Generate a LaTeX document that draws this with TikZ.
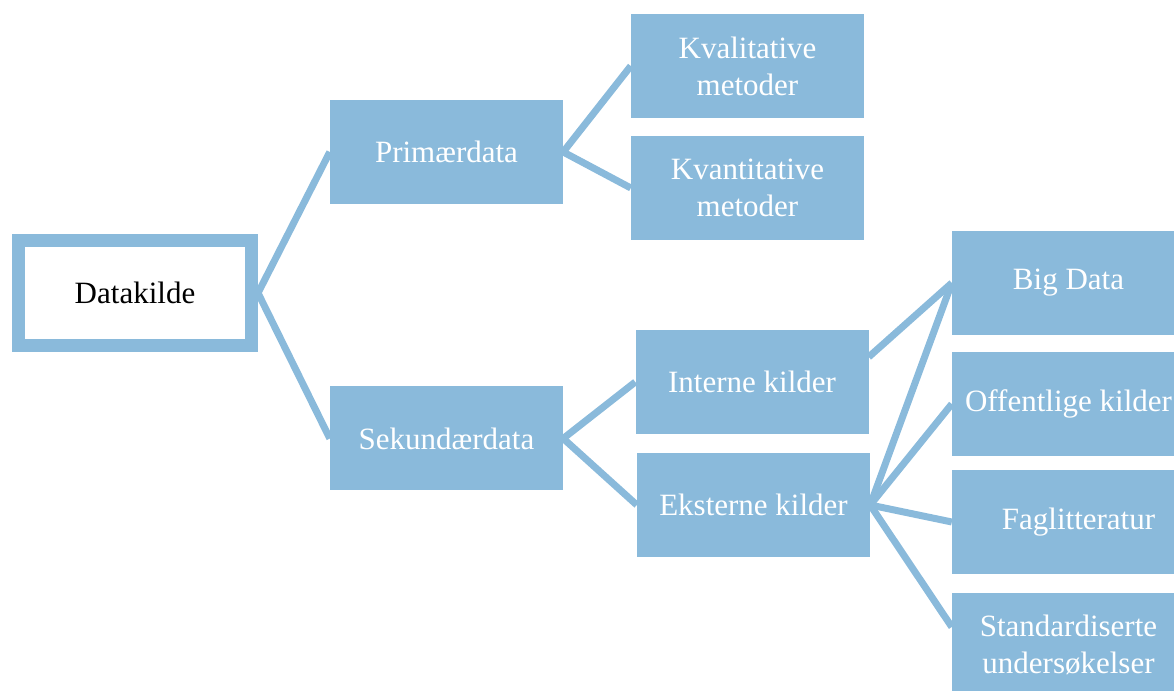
\documentclass[tikz,border=0pt]{standalone}
\usepackage{fontspec}
\setmainfont{Liberation Serif}
\usetikzlibrary{backgrounds}
\definecolor{boxblue}{HTML}{8ABADB}
\begin{document}
\begin{tikzpicture}[x=1pt,y=1pt,
  every node/.style={font=\fontsize{31}{37}\selectfont},
  bluebox/.style={fill=boxblue, draw=none, text=white, minimum width=233pt, minimum height=104pt, inner sep=0pt, align=center},
  rootbox/.style={fill=white, draw=boxblue, line width=13pt, text=black, minimum width=233pt, minimum height=105pt, inner sep=0pt, align=center},
  conn/.style={draw=boxblue, line width=7pt}]
\useasboundingbox (0,0) rectangle (1174,690);
\clip (0,0) rectangle (1174,690);
\node[rootbox] (D) at (135,397) {Datakilde};
\node[bluebox] (P) at (446.5,538) {Primærdata};
\node[bluebox] (S) at (446.5,251.5) {Sekundærdata};
\node[bluebox] (Kval) at (747.5,624) {Kvalitative\\metoder};
\node[bluebox] (Kvan) at (747.5,502) {Kvantitative\\metoder};
\node[bluebox] (I) at (752,308) {Interne kilder};
\node[bluebox] (E) at (753.5,185) {Eksterne kilder};
\node[bluebox] (BD) at (1068.5,407) {Big Data};
\node[bluebox] (O) at (1068.5,286) {Offentlige kilder};
\node[bluebox] (F) at (1068.5,168) {\hspace*{20pt}Faglitteratur};
\node[bluebox] (St) at (1068.5,45) {Standardiserte\\undersøkelser};
\begin{scope}[on background layer]
\draw[conn] (D.east) -- (P.west);
\draw[conn] (D.east) -- (S.west);
\draw[conn] (P.east) -- (Kval.west);
\draw[conn] (P.east) -- (Kvan.west);
\draw[conn] (S.east) -- (I.west);
\draw[conn] (S.east) -- (E.west);
\draw[conn] ([yshift=25pt]I.east) -- (BD.west);
\draw[conn] (E.east) -- (BD.west);
\draw[conn] (E.east) -- (O.west);
\draw[conn] (E.east) -- (F.west);
\draw[conn] (E.east) -- ([yshift=18pt]St.west);
\end{scope}
\end{tikzpicture}
\end{document}
